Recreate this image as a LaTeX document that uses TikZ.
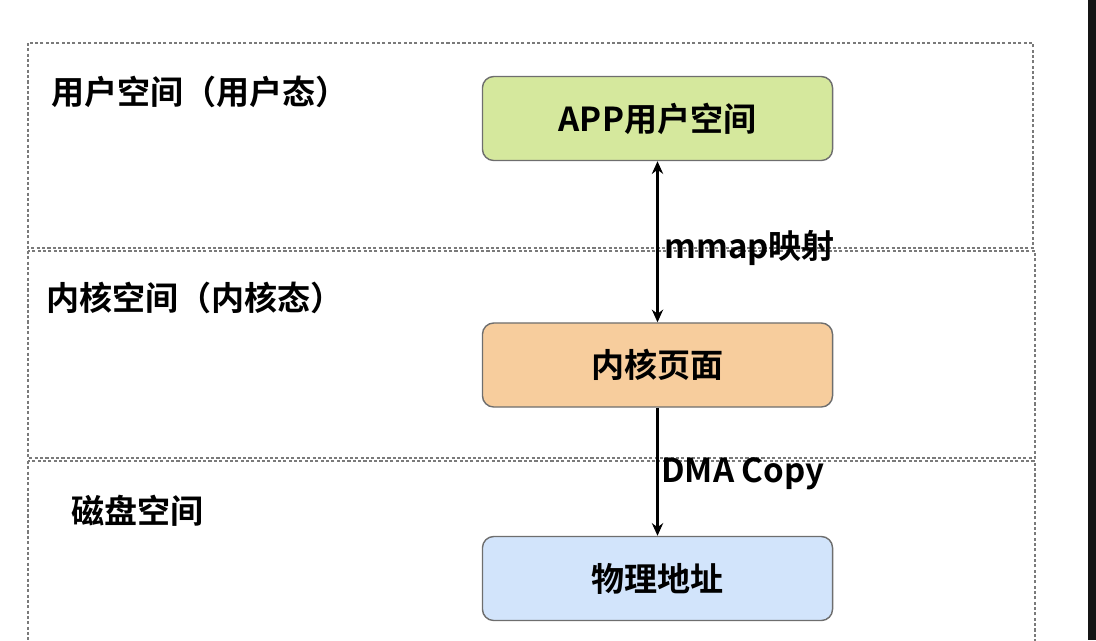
\documentclass[tikz,border=0pt]{standalone}
\usepackage{fontspec}
\setmainfont{Noto Sans CJK SC}[BoldFont={* Bold}]
\usetikzlibrary{arrows.meta}

\definecolor{appgreen}{HTML}{D5E89D}
\definecolor{kernelorange}{HTML}{F7CD9D}
\definecolor{diskblue}{HTML}{D2E4FB}
\definecolor{zonegray}{HTML}{7A7A7A}
\definecolor{edgegray}{HTML}{6E6E6E}
\definecolor{barblack}{HTML}{151515}

\tikzset{
	zone/.style={draw=zonegray, line width=1.4pt, dash pattern=on 2.2pt off 1.6pt},
	membox/.style={draw=edgegray, line width=1pt, rounded corners=8pt,
		minimum width=8.75cm, minimum height=2.1cm, inner sep=0pt},
	link/.style={line width=1.5pt, arrows={-Stealth[length=9pt, width=8pt]}},
	bothlink/.style={line width=1.5pt, arrows={Stealth[length=9pt, width=8pt]-Stealth[length=9pt, width=8pt]}},
	zonelabel/.style={inner sep=0pt, anchor=west}
}

\begin{document}
\begin{tikzpicture}[x=0.025cm, y=-0.025cm, font=\bfseries\fontsize{23.5}{28}\selectfont]
	\useasboundingbox (0,0) rectangle (1096,640);
	\clip (0,0) rectangle (1096,640);

	%three address zones
	\draw[zone] (28,43) rectangle (1033,248);
	\draw[zone] (28,251) rectangle (1035,458);
	\draw[zone] (28,461) rectangle (1035,700);

	\node[zonelabel] (userlbl) at (51,92) {用户空间（用户态）};
	\node[zonelabel] (kernlbl) at (46,298) {内核空间（内核态）};
	\node[zonelabel] (disklbl) at (71,511) {磁盘空间};

	%pages
	\node[membox, fill=appgreen] (app) at (657.5,118.5) {APP用户空间};
	\node[membox, fill=kernelorange] (kpage) at (657.5,365) {内核页面};
	\node[membox, fill=diskblue] (phys) at (657.5,578.5) {物理地址};

	%mapping and copy
	\draw[bothlink] (app) -- (kpage);
	\draw[link] (kpage) -- (phys);
	\node[zonelabel] (mmaplbl) at (664,248) {mmap映射};
	\node[zonelabel] (dmalbl) at (661,474) {DMA Copy};

	%dark strip at the right edge
	\fill[barblack] (1088,0) rectangle (1096,640);
\end{tikzpicture}
\end{document}
